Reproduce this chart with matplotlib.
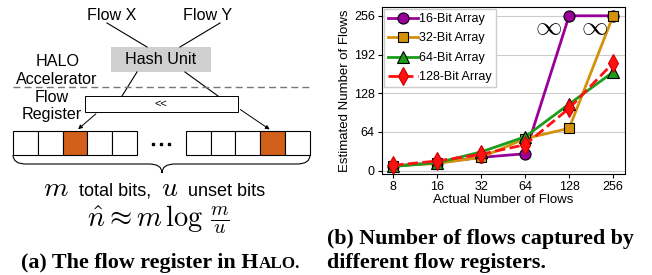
import matplotlib
matplotlib.use('Agg')
import matplotlib.pyplot as plt
from matplotlib.patches import Rectangle
from matplotlib.path import Path
from matplotlib.patches import PathPatch

plt.rcParams['font.family'] = ['Liberation Sans', 'DejaVu Sans']
plt.rcParams['mathtext.fontset'] = 'cm'

# data for panel (b)
flows = ['8', '16', '32', '64', '128', '256']
est_16 = [8, 13, 22, 28, 256, 256]
est_32 = [8, 12, 22, 53, 70, 256]
est_64 = [7, 13, 31, 56, 110, 163]
est_128 = [9, 16, 27, 43, 103, 178]
y_ticks = [0, 64, 128, 192, 256]

W, H = 652, 275
fig = plt.figure(figsize=(W / 100, H / 100), dpi=100)

# overlay in pixel coords for the diagram and captions
bg = fig.add_axes([0, 0, 1, 1])
bg.set_xlim(0, W)
bg.set_ylim(H, 0)
bg.axis('off')
fig.canvas.draw()
renderer = fig.canvas.get_renderer()


def run_text(x0, y, pieces):
    # place text pieces one after another on a shared baseline
    x = x0
    for s, kw in pieces:
        t = bg.text(x, y, s, ha='left', va='baseline', **kw)
        bb = t.get_window_extent(renderer)
        x = bg.transData.inverted().transform((bb.x1, 0))[0]
    return x


# --- panel (a): flow register diagram ---
fs = 11.6
bg.text(112, 16, 'Flow X', ha='center', va='center', fontsize=fs)
bg.text(208, 16, 'Flow Y', ha='center', va='center', fontsize=fs)
bg.plot([107, 147], [23, 47], color='k', lw=0.8)
bg.plot([220, 180], [23, 47], color='k', lw=0.8)
bg.add_patch(Rectangle((111, 47), 100, 25, facecolor='#d0d0d0', edgecolor='none'))
bg.text(161, 60, 'Hash Unit', ha='center', va='center', fontsize=fs)
bg.plot([137, 122], [72, 96], color='k', lw=0.8)
bg.plot([185, 218], [72, 96], color='k', lw=0.8)

bg.text(58, 61, 'HALO', ha='center', va='center', fontsize=fs)
bg.text(57, 79, 'Accelerator', ha='center', va='center', fontsize=fs)
bg.plot([13, 310], [87, 87], color='#777777', lw=1.0, ls=(0, (5, 3)))
bg.text(52, 97, 'Flow', ha='center', va='center', fontsize=fs)
bg.text(52, 114, 'Register', ha='center', va='center', fontsize=fs)

bg.add_patch(Rectangle((85, 96), 153, 16, facecolor='white', edgecolor='k', lw=0.7))
bg.text(161, 104, '<<', ha='center', va='center', fontsize=8)
bg.annotate('', xy=(76, 131), xytext=(98, 112),
            arrowprops=dict(arrowstyle='-|>', color='k', lw=0.7, mutation_scale=6))
bg.annotate('', xy=(272, 131), xytext=(238, 108),
            arrowprops=dict(arrowstyle='-|>', color='k', lw=0.7, mutation_scale=6))

cell_w = 24.7
for start, hot in [(13.3, 2), (186.0, 3)]:
    for i in range(5):
        fc = '#d2601a' if i == hot else 'white'
        bg.add_patch(Rectangle((start + i * cell_w, 131), cell_w, 24,
                               facecolor=fc, edgecolor='k', lw=0.8))
bg.plot([153, 161, 169], [144, 144, 144], ls='none', marker='s', ms=1.9, color='k')

# curly brace under the register
verts = [(13, 155), (13, 164), (26, 164), (149, 164), (162, 164), (162, 173),
         (162, 164), (175, 164), (297, 164), (310, 164), (310, 155)]
codes = [Path.MOVETO, Path.CURVE3, Path.CURVE3, Path.LINETO, Path.CURVE3, Path.CURVE3,
         Path.CURVE3, Path.CURVE3, Path.LINETO, Path.CURVE3, Path.CURVE3]
bg.add_patch(PathPatch(Path(verts, codes), facecolor='none', edgecolor='k', lw=0.8))

big = dict(fontsize=20)
small = dict(fontsize=13)
run_text(43, 196, [(r'$m$', big), ('  total bits,  ', small), (r'$u$', big), ('  unset bits', small)])
bg.text(158, 227, r'$\hat{n} \approx m\,\log\,\frac{m}{u}$', ha='center', va='baseline', fontsize=20.5)

# captions
cap = dict(family=['Liberation Serif', 'DejaVu Serif'], weight='bold', fontsize=15.8)
capsc = dict(cap, fontsize=12.3)
run_text(21, 268, [('(a) The flow register in H', cap), ('ALO.', capsc)])
run_text(327, 244, [('(b) Number of flows captured by', cap)])
run_text(327, 268, [('different flow registers.', cap)])

# --- panel (b): chart ---
ax = fig.add_axes([381.7 / W, 1 - 174 / H, (625 - 381.7) / W, (174 - 6.7) / H])
x = range(len(flows))
ax.plot(x, est_16, color='#990099', lw=2, marker='o', ms=8, mec='k', mew=0.8, label='16-Bit Array')
ax.plot(x, est_32, color='#d4920b', lw=2, marker='s', ms=7.5, mec='k', mew=0.8, label='32-Bit Array')
ax.plot(x, est_64, color='#1a9e1a', lw=2, marker='^', ms=9, mec='k', mew=0.8, label='64-Bit Array')
ax.plot(x, est_128, color='#ff1111', lw=2, ls='--', marker='d', ms=9, mec='#cc0000', mew=0.8,
        label='128-Bit Array')
ax.set_xticks(list(x))
ax.set_xticklabels(flows)
ax.set_yticks(y_ticks)
ax.set_xlim(-0.26, 5.27)
ax.set_ylim(-5.5, 271)
ax.yaxis.grid(True, color='#cccccc', lw=0.8)
ax.set_axisbelow(True)
ax.tick_params(labelsize=9, length=3, pad=2)
ax.set_xlabel('Actual Number of Flows', fontsize=9.5, labelpad=1)
ax.set_ylabel('Estimated Number of Flows', fontsize=9.5, labelpad=2)
ax.text(3.52, 238, r'$\infty$', fontsize=19, ha='center', va='center')
ax.text(4.58, 238, r'$\infty$', fontsize=19, ha='center', va='center')
ax.legend(loc='upper left', fontsize=9, handlelength=2.4, borderaxespad=0.2,
          labelspacing=0.6, handletextpad=0.1, borderpad=0.3, fancybox=False,
          framealpha=1, edgecolor='#cccccc')

fig.savefig('out.png', dpi=100)
